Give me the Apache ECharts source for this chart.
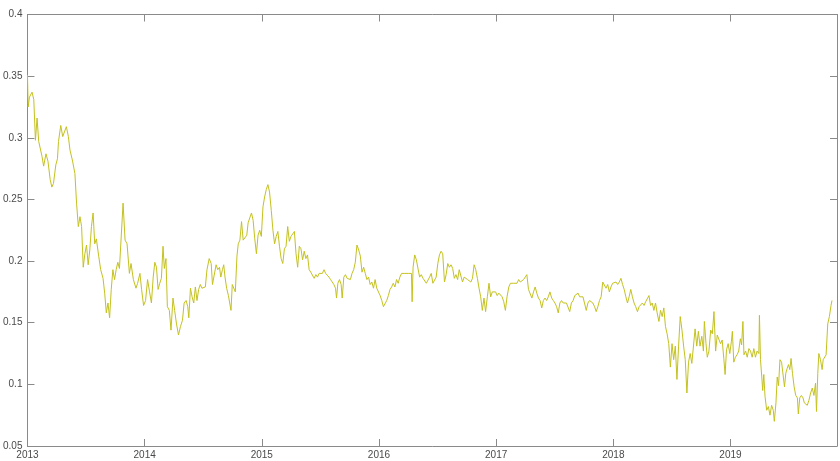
<!DOCTYPE html>
<html>
<head>
<meta charset="utf-8">
<script src="https://cdn.jsdelivr.net/npm/echarts@6/dist/echarts.min.js"></script>
<style>html,body{margin:0;padding:0;background:#fff}#c{width:840px;height:461px}</style>
</head>
<body>
<div id="c"></div>
<script>
const yearTicks = [2013, 2014, 2015, 2016, 2017, 2018, 2019];
const valueTicks = [0.05, 0.1, 0.15, 0.2, 0.25, 0.3, 0.35, 0.4];

const years = [
2013.000,2013.006,2013.017,2013.039,2013.054,2013.068,2013.082,2013.096,2013.110,2013.124,
2013.138,2013.158,2013.175,2013.194,2013.208,2013.222,2013.242,2013.256,2013.265,2013.284,
2013.301,2013.315,2013.332,2013.349,2013.363,2013.383,2013.405,2013.419,2013.434,2013.448,
2013.462,2013.476,2013.490,2013.504,2013.518,2013.532,2013.546,2013.560,2013.574,2013.588,
2013.608,2013.625,2013.645,2013.659,2013.673,2013.687,2013.701,2013.715,2013.729,2013.743,
2013.757,2013.771,2013.785,2013.800,2013.816,2013.833,2013.850,2013.870,2013.884,2013.904,
2013.926,2013.940,2013.960,2013.974,2013.991,2014.008,2014.025,2014.042,2014.058,2014.073,
2014.087,2014.101,2014.115,2014.129,2014.143,2014.157,2014.168,2014.182,2014.194,2014.211,
2014.225,2014.242,2014.256,2014.272,2014.289,2014.306,2014.323,2014.337,2014.354,2014.368,
2014.377,2014.391,2014.405,
2014.419,2014.433,2014.447,2014.461,2014.475,2014.489,2014.503,2014.518,2014.532,2014.551,
2014.568,2014.579,2014.593,2014.610,2014.624,2014.639,2014.650,2014.664,2014.675,2014.686,
2014.700,2014.715,2014.726,2014.737,2014.748,2014.762,2014.774,2014.788,2014.799,2014.813,
2014.827,2014.841,2014.855,2014.872,2014.883,2014.897,2014.912,2014.926,2014.940,2014.954,
2014.968,2014.982,2014.996,2015.010,2015.024,2015.038,2015.052,2015.066,2015.081,2015.095,
2015.109,2015.123,2015.137,2015.151,2015.165,2015.179,2015.193,2015.207,2015.221,2015.235,
2015.249,2015.264,2015.278,2015.292,2015.306,2015.320,2015.334,2015.348,2015.362,2015.376,
2015.390,2015.404,2015.418,2015.432,2015.447,2015.461,2015.475,2015.489,2015.503,2015.517,
2015.531,2015.545,2015.559,2015.573,2015.587,2015.601,2015.615,2015.629,2015.638,2015.649,
2015.663,2015.677,2015.686,2015.700,2015.714,2015.728,2015.742,2015.756,2015.770,2015.784,
2015.798,2015.812,
2015.827,2015.841,2015.855,2015.869,2015.883,2015.897,2015.911,2015.925,2015.939,2015.953,
2015.967,2015.981,2015.995,2016.010,2016.024,2016.038,2016.052,2016.066,2016.080,2016.094,
2016.108,2016.122,2016.136,2016.150,2016.164,2016.178,2016.193,2016.207,2016.221,2016.235,
2016.249,2016.263,2016.277,2016.283,2016.291,2016.305,2016.319,2016.333,2016.347,2016.361,
2016.376,2016.390,2016.404,2016.418,2016.432,2016.446,2016.460,2016.474,2016.488,2016.502,
2016.516,2016.530,2016.544,2016.559,2016.573,2016.587,2016.601,2016.615,2016.629,2016.643,
2016.657,2016.671,2016.685,2016.699,2016.713,2016.727,2016.742,2016.756,2016.770,2016.784,
2016.798,2016.812,2016.826,2016.840,2016.854,2016.868,2016.882,2016.896,2016.910,2016.925,
2016.939,2016.953,2016.967,2016.981,2016.995,2017.009,2017.023,2017.037,2017.051,2017.065,
2017.079,2017.093,2017.108,2017.122,2017.136,2017.150,2017.164,2017.178,2017.192,2017.206,
2017.220,2017.234,2017.248,2017.262,2017.276,
2017.291,2017.305,2017.319,2017.333,2017.347,2017.361,2017.375,2017.389,2017.403,2017.417,
2017.431,2017.445,2017.459,2017.474,2017.488,2017.502,2017.516,2017.530,2017.544,2017.558,
2017.572,2017.586,2017.600,2017.614,2017.628,2017.642,2017.657,2017.671,2017.685,2017.699,
2017.713,2017.727,2017.741,2017.755,2017.769,2017.783,2017.797,2017.811,2017.825,2017.840,
2017.854,2017.868,2017.882,2017.896,2017.910,2017.924,2017.938,2017.952,2017.966,2017.980,
2017.994,2018.008,2018.023,2018.037,2018.051,2018.065,2018.079,2018.093,2018.107,2018.121,
2018.135,2018.149,2018.163,2018.177,2018.191,2018.206,2018.220,2018.234,2018.248,2018.262,
2018.276,2018.290,2018.304,2018.318,2018.332,2018.346,2018.360,2018.374,2018.389,2018.403,
2018.417,2018.431,2018.445,2018.459,2018.473,2018.487,2018.501,2018.515,2018.529,2018.543,
2018.557,2018.571,2018.586,2018.600,2018.614,2018.628,
2018.642,2018.656,2018.670,2018.684,2018.698,2018.712,2018.726,2018.740,2018.755,2018.769,
2018.777,2018.791,2018.802,2018.816,2018.831,2018.845,2018.859,2018.873,2018.887,2018.901,
2018.915,2018.929,2018.943,2018.954,2018.966,2018.980,2018.994,2019.008,2019.016,2019.028,
2019.042,2019.056,2019.070,2019.084,2019.095,2019.106,2019.115,2019.129,2019.143,2019.157,
2019.171,2019.185,2019.199,2019.213,2019.227,2019.242,2019.247,2019.256,2019.267,2019.275,
2019.284,2019.295,2019.309,2019.323,2019.337,2019.351,2019.365,2019.374,2019.388,2019.399,
2019.410,2019.422,2019.436,2019.450,2019.461,2019.472,2019.484,2019.495,2019.506,2019.517,
2019.529,2019.543,2019.557,2019.571,2019.579,2019.591,2019.605,2019.619,2019.630,2019.641,
2019.655,2019.669,2019.684,2019.698,2019.712,2019.726,2019.734,2019.745,2019.754,2019.768,
2019.782,2019.791,2019.802,2019.816,2019.830,2019.844,2019.858,2019.866
];

const values = [
0.351,0.325,0.333,0.337,0.331,0.298,0.316,0.297,0.296,0.285,
0.277,0.287,0.281,0.266,0.260,0.263,0.278,0.283,0.297,0.310,
0.301,0.302,0.309,0.301,0.290,0.282,0.271,0.247,0.228,0.236,
0.228,0.195,0.206,0.213,0.197,0.209,0.228,0.239,0.214,0.218,
0.204,0.193,0.186,0.174,0.158,0.166,0.154,0.177,0.193,0.185,
0.193,0.199,0.194,0.194,0.247,0.217,0.214,0.190,0.198,0.185,
0.178,0.182,0.190,0.177,0.164,0.168,0.185,0.175,0.166,0.187,
0.199,0.195,0.177,0.182,0.186,0.212,0.194,0.202,0.163,0.160,
0.144,0.170,0.160,0.149,0.140,0.147,0.152,0.166,0.168,0.163,
0.154,0.178,0.171,
0.166,0.179,0.168,0.177,0.181,0.178,0.179,0.179,0.193,0.202,
0.198,0.181,0.182,0.197,0.193,0.195,0.187,0.193,0.197,0.187,
0.178,0.172,0.166,0.160,0.181,0.182,0.175,0.204,0.214,0.217,
0.232,0.217,0.216,0.221,0.231,0.235,0.239,0.233,0.218,0.206,
0.221,0.225,0.220,0.244,0.252,0.258,0.262,0.256,0.241,0.225,
0.214,0.220,0.224,0.212,0.202,0.198,0.210,0.212,0.228,0.216,
0.220,0.221,0.224,0.206,0.195,0.212,0.210,0.201,0.208,0.202,
0.205,0.193,0.191,0.190,0.186,0.189,0.187,0.190,0.189,0.190,
0.193,0.190,0.191,0.187,0.185,0.186,0.181,0.178,0.170,0.182,
0.185,0.181,0.170,0.187,0.189,0.186,0.187,0.185,0.190,0.193,
0.199,0.213,
0.209,0.204,0.191,0.195,0.190,0.185,0.187,0.181,0.183,0.178,
0.185,0.178,0.177,0.172,0.168,0.163,0.164,0.168,0.172,0.177,
0.179,0.182,0.179,0.185,0.182,0.187,0.190,0.189,0.190,0.189,
0.190,0.189,0.190,0.167,0.195,0.205,0.201,0.202,0.187,0.189,
0.186,0.185,0.182,0.181,0.187,0.190,0.182,0.183,0.187,0.198,
0.205,0.208,0.206,0.183,0.189,0.198,0.195,0.197,0.194,0.186,
0.189,0.185,0.193,0.194,0.183,0.187,0.187,0.185,0.186,0.183,
0.186,0.197,0.193,0.186,0.178,0.171,0.160,0.170,0.159,0.171,
0.182,0.171,0.175,0.174,0.175,0.172,0.174,0.174,0.171,0.167,
0.160,0.171,0.179,0.182,0.183,0.182,0.183,0.182,0.185,0.183,
0.182,0.185,0.186,0.189,0.177,
0.177,0.170,0.175,0.179,0.174,0.170,0.168,0.162,0.168,0.170,
0.168,0.171,0.175,0.170,0.168,0.166,0.163,0.158,0.166,0.168,
0.166,0.167,0.166,0.167,0.159,0.166,0.168,0.172,0.171,0.174,
0.171,0.172,0.171,0.170,0.160,0.166,0.168,0.167,0.166,0.163,
0.159,0.163,0.168,0.171,0.183,0.182,0.178,0.181,0.175,0.179,
0.182,0.181,0.183,0.181,0.183,0.186,0.181,0.177,0.171,0.166,
0.171,0.177,0.171,0.166,0.163,0.159,0.163,0.164,0.166,0.164,
0.167,0.168,0.172,0.164,0.166,0.160,0.166,0.158,0.151,0.160,
0.155,0.162,0.147,0.141,0.133,0.114,0.133,0.120,0.131,0.104,
0.131,0.155,0.144,0.131,0.120,0.093,
0.118,0.125,0.117,0.116,0.145,0.131,0.143,0.131,0.139,0.127,
0.151,0.133,0.122,0.127,0.144,0.141,0.159,0.127,0.140,0.139,
0.133,0.136,0.121,0.108,0.128,0.133,0.125,0.135,0.143,0.118,
0.122,0.124,0.127,0.137,0.132,0.151,0.124,0.127,0.122,0.129,
0.127,0.122,0.129,0.122,0.127,0.125,0.156,0.120,0.106,0.095,
0.108,0.090,0.079,0.082,0.075,0.083,0.079,0.070,0.085,0.106,
0.099,0.120,0.118,0.117,0.098,0.109,0.113,0.116,0.112,0.121,
0.109,0.098,0.091,0.089,0.076,0.089,0.091,0.089,0.085,0.086,
0.083,0.087,0.093,0.097,0.091,0.101,0.078,0.109,0.125,0.120,
0.112,0.120,0.121,0.124,0.149,0.155,0.164,0.168
];

const xMin = 2013, xMax = 2019.909, yMin = 0.05, yMax = 0.4;
const series = years.map((y, i) => [y, values[i]]);

const chart = echarts.init(document.getElementById('c'), null, {renderer: 'canvas'});
const axisColor = '#8a8a8a';
const labelStyle = {color: '#4a4a4a', fontSize: 10, fontFamily: 'Liberation Sans, Arial, sans-serif'};
const xCommon = {
  type: 'value', min: xMin, max: xMax, interval: 1,
  splitLine: {show: false},
  axisLine: {show: true, onZero: false, lineStyle: {color: axisColor, width: 1}},
  axisTick: {show: true, inside: true, length: 7, lineStyle: {color: axisColor}}
};
const yCommon = {
  type: 'value', min: yMin, max: yMax, interval: 0.05,
  splitLine: {show: false},
  axisLine: {show: true, onZero: false, lineStyle: {color: axisColor, width: 1}},
  axisTick: {show: true, inside: true, length: 7, lineStyle: {color: axisColor}}
};
chart.setOption({
  animation: false,
  backgroundColor: '#ffffff',
  grid: {left: 27, right: -5, top: 14.5, bottom: 15, containLabel: false},
  xAxis: [
    Object.assign({}, xCommon, {position: 'bottom',
      axisLabel: Object.assign({}, labelStyle, {margin: 4,
        formatter: v => yearTicks.includes(Math.round(v * 1000) / 1000) ? String(Math.round(v)) : ''})}),
    Object.assign({}, xCommon, {position: 'top', axisLabel: {show: false}})
  ],
  yAxis: [
    Object.assign({}, yCommon, {position: 'left',
      axisLabel: Object.assign({}, labelStyle, {margin: 5,
        formatter: v => { const r = Math.round(v * 100) / 100; return valueTicks.includes(r) ? String(r) : ''; }})}),
    Object.assign({}, yCommon, {position: 'right', axisLabel: {show: false}})
  ],
  series: [{
    type: 'line', data: series, xAxisIndex: 0, yAxisIndex: 0,
    showSymbol: false, symbol: 'none', smooth: false,
    lineStyle: {color: '#c4c21f', width: 1}
  }]
});
</script>
</body>
</html>
